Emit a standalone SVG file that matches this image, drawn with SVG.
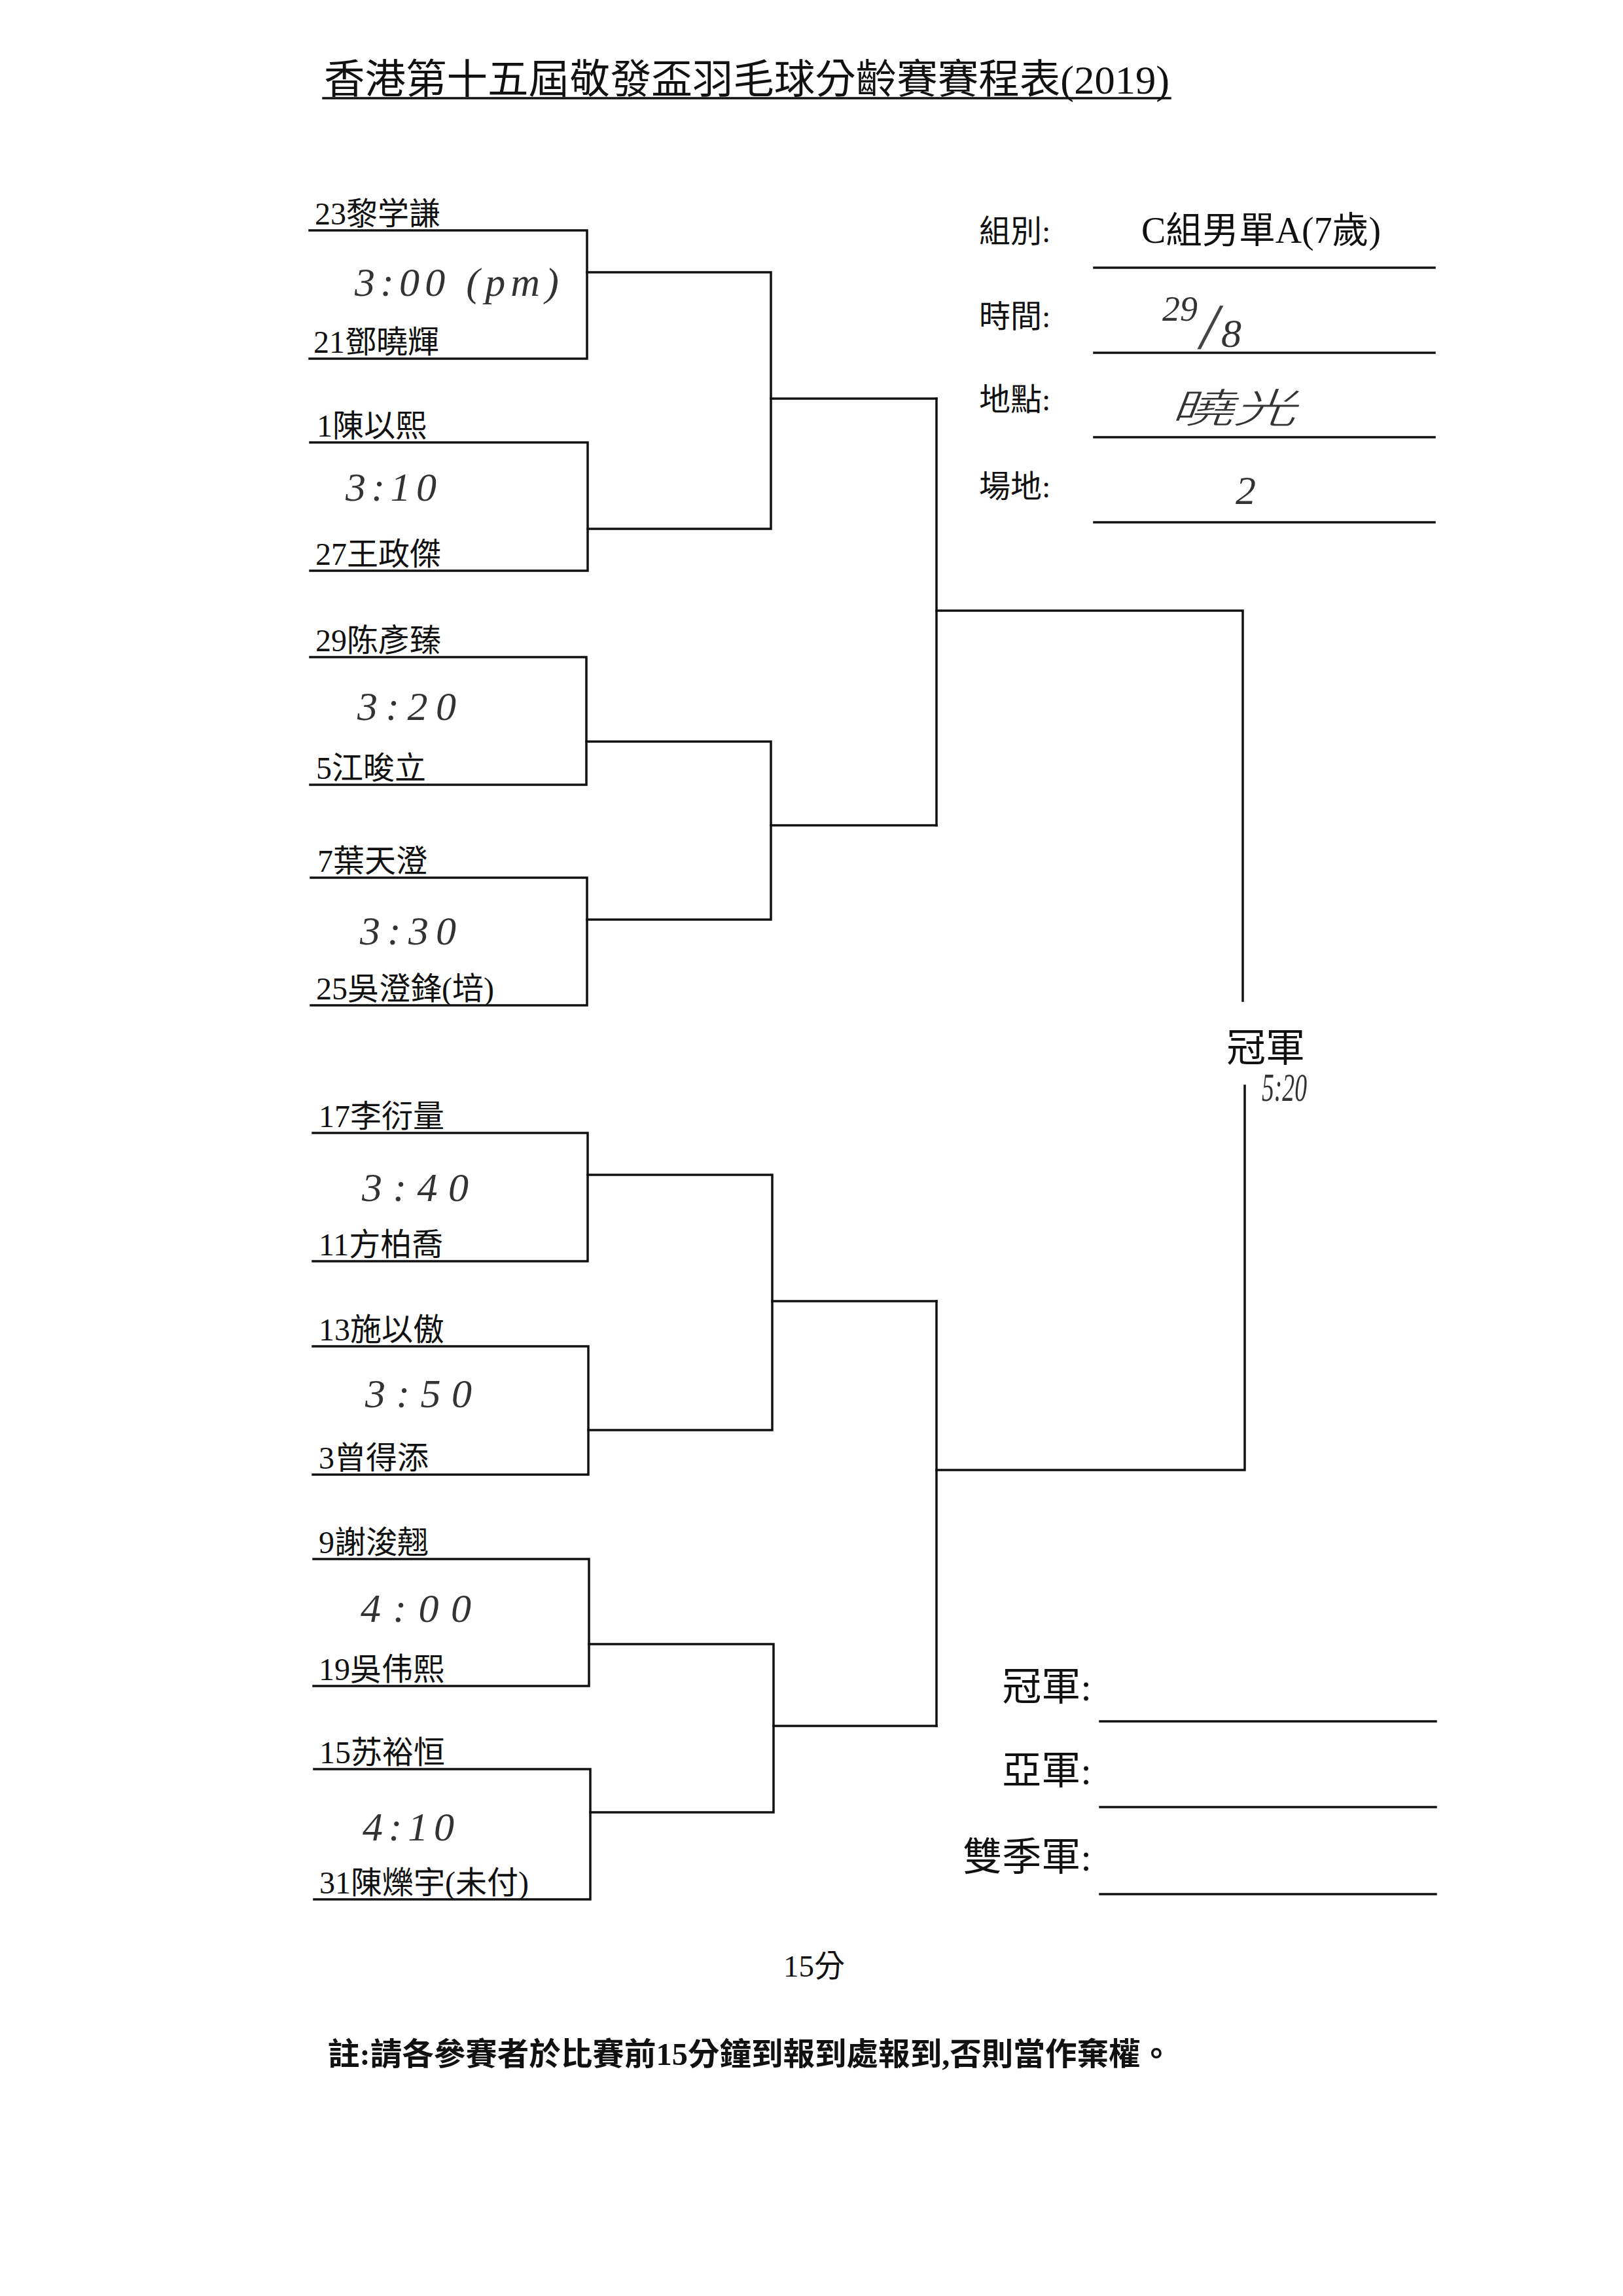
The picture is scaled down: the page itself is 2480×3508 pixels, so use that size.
<svg xmlns="http://www.w3.org/2000/svg" width="2480" height="3508" viewBox="0 0 2480 3508">
<style>
.t{font-family:"Liberation Serif","Noto Sans CJK TC",serif;fill:#111;}
.nm{font-size:48px;}
.lb{font-size:48px;}
.big{font-size:60px;}
.hw{font-family:"Liberation Serif","Noto Sans CJK TC",serif;font-style:italic;fill:#333;font-size:62px;}
.ln{stroke:#111;stroke-width:3.5;fill:none;stroke-linecap:square;}
</style>
<rect x="0" y="0" width="2480" height="3508" fill="#fff"/>

<g id="title">
<text class="t" x="495" y="143" font-size="62" textLength="1292" lengthAdjust="spacingAndGlyphs">香港第十五屆敬發盃羽毛球分齡賽賽程表(2019)</text>
<line class="ln" x1="494" y1="150" x2="1788" y2="150"/>
</g>

<g id="info">
<text class="t lb" x="1496" y="370">組別:</text>
<text class="t" x="1744" y="371" font-size="56" textLength="366" lengthAdjust="spacingAndGlyphs">C組男單A(7歲)</text>
<line class="ln" x1="1672" y1="409" x2="2192" y2="409"/>
<text class="t lb" x="1496" y="500">時間:</text>
<text class="hw"><tspan x="1776" y="490" font-size="54">29</tspan><tspan x="1834" y="532" font-size="100" fill="#444">/</tspan><tspan x="1866" y="530" font-size="62">8</tspan></text>
<line class="ln" x1="1672" y1="539" x2="2192" y2="539"/>
<text class="t lb" x="1496" y="627">地點:</text>
<text class="hw" x="1788" y="646" font-size="86" textLength="192" lengthAdjust="spacingAndGlyphs" style="font-family:'Noto Sans CJK TC',sans-serif;font-weight:300">曉光</text>
<line class="ln" x1="1672" y1="668" x2="2192" y2="668"/>
<text class="t lb" x="1496" y="760">場地:</text>
<text class="hw" x="1888" y="770" font-size="66">2</text>
<line class="ln" x1="1672" y1="798" x2="2192" y2="798"/>
</g>

<g id="match1">
<path class="ln" d="M473 352 H897 V548 H473"/>
<text class="t nm" x="481" y="343">23黎学謙</text>
<text class="hw" x="542" y="452" textLength="312" lengthAdjust="spacing">3:00 (pm)</text>
<text class="t nm" x="479" y="539">21鄧曉輝</text>
</g>
<g id="match2">
<path class="ln" d="M474 676 H898 V872 H474"/>
<text class="t nm" x="484" y="667">1陳以熙</text>
<text class="hw" x="528" y="765" textLength="139" lengthAdjust="spacing">3:10</text>
<text class="t nm" x="482" y="863">27王政傑</text>
</g>
<g id="match3">
<path class="ln" d="M474 1004 H896 V1199 H474"/>
<text class="t nm" x="482" y="995">29陈彥臻</text>
<text class="hw" x="546" y="1100" textLength="151" lengthAdjust="spacing">3:20</text>
<text class="t nm" x="483" y="1190">5江晙立</text>
</g>
<g id="match4">
<path class="ln" d="M475 1341 H897 V1536 H475"/>
<text class="t nm" x="485" y="1332">7葉天澄</text>
<text class="hw" x="550" y="1443" textLength="147" lengthAdjust="spacing">3:30</text>
<text class="t nm" x="483" y="1527">25吳澄鋒(培)</text>
</g>
<g id="match5">
<path class="ln" d="M478 1731 H898 V1927 H478"/>
<text class="t nm" x="487" y="1722">17李衍量</text>
<text class="hw" x="553" y="1835" textLength="163" lengthAdjust="spacing">3:40</text>
<text class="t nm" x="487" y="1918">11方柏喬</text>
</g>
<g id="match6">
<path class="ln" d="M478 2057 H899 V2253 H478"/>
<text class="t nm" x="487" y="2048">13施以傲</text>
<text class="hw" x="558" y="2150" textLength="163" lengthAdjust="spacing">3:50</text>
<text class="t nm" x="487" y="2244">3曾得添</text>
</g>
<g id="match7">
<path class="ln" d="M479 2382 H900 V2576 H479"/>
<text class="t nm" x="487" y="2373">9謝浚翹</text>
<text class="hw" x="551" y="2478" textLength="169" lengthAdjust="spacing">4:00</text>
<text class="t nm" x="487" y="2567">19吳伟熙</text>
</g>
<g id="match8">
<path class="ln" d="M480 2703 H902 V2902 H480"/>
<text class="t nm" x="488" y="2694">15苏裕恒</text>
<text class="hw" x="554" y="2812" textLength="140" lengthAdjust="spacing">4:10</text>
<text class="t nm" x="488" y="2893">31陳爍宇(未付)</text>
</g>

<g id="connectors">
<path class="ln" d="M897 416 H1178 V808 H898"/>
<path class="ln" d="M1178 609 H1431"/>
<path class="ln" d="M896 1133 H1178 V1405 H897"/>
<path class="ln" d="M1178 1261 H1431"/>
<path class="ln" d="M1431 609 V1261"/>
<path class="ln" d="M1431 933 H1899 V1529"/>
<path class="ln" d="M898 1795 H1180 V2185 H899"/>
<path class="ln" d="M1180 1988 H1431"/>
<path class="ln" d="M900 2512 H1182 V2769 H902"/>
<path class="ln" d="M1182 2637 H1431"/>
<path class="ln" d="M1431 1988 V2637"/>
<path class="ln" d="M1431 2246 H1902 V1659"/>
</g>

<g id="champion">
<text class="t big" x="1874" y="1622">冠軍</text>
<text class="hw" x="1928" y="1682" font-size="32" textLength="69" lengthAdjust="spacingAndGlyphs">5:20</text>
</g>

<g id="results">
<text class="t big" x="1668" y="2598" text-anchor="end">冠軍:</text>
<line class="ln" x1="1681" y1="2630" x2="2194" y2="2630"/>
<text class="t big" x="1668" y="2726" text-anchor="end">亞軍:</text>
<line class="ln" x1="1681" y1="2761" x2="2194" y2="2761"/>
<text class="t big" x="1668" y="2858" text-anchor="end">雙季軍:</text>
<line class="ln" x1="1681" y1="2894" x2="2194" y2="2894"/>
</g>

<g id="footer">
<text class="t" x="1197" y="3020" font-size="47">15分</text>
<text class="t" x="501" y="3155" font-size="48" font-weight="bold" textLength="1290" lengthAdjust="spacingAndGlyphs">註:請各參賽者於比賽前15分鐘到報到處報到,否則當作棄權。</text>
</g>
</svg>
